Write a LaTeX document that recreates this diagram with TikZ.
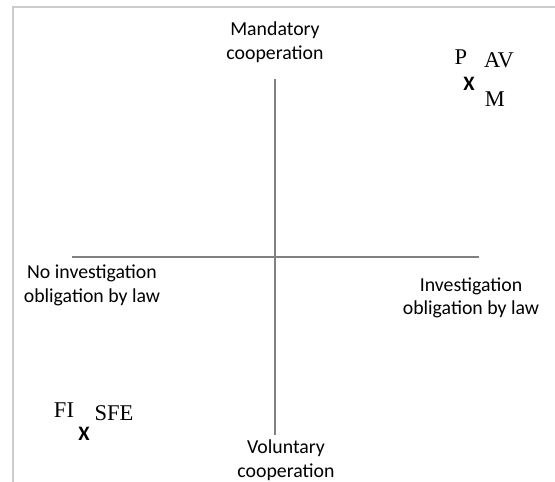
\documentclass[tikz,border=0pt]{standalone}
\usepackage{fontspec}
\setmainfont{Carlito}
\newfontfamily\serifl{Liberation Serif}
\begin{document}
\begin{tikzpicture}[x=1pt,y=-1pt,
  axisline/.style={draw=black!50, line width=2pt},
  framerule/.style={draw=black!20, line width=1.2pt},
  axislabel/.style={align=center, font=\fontsize{19.8}{23.5}\selectfont, inner sep=0pt},
  tag/.style={font=\fontsize{22.5}{26}\serifl, inner sep=0pt},
  mark x/.style={font=\fontsize{20.5}{24}\selectfont\bfseries, inner sep=0pt}]
  \useasboundingbox (0,0) rectangle (555,482);
  % frame
  \coordinate (fb) at (13,482);
  \coordinate (fc) at (13,7);
  \coordinate (fr) at (555,7);
  \draw[framerule] (fb) -- (fc) -- (fr);
  % axes
  \coordinate (top) at (275,79);
  \coordinate (bot) at (275,435);
  \coordinate (lft) at (72,257);
  \coordinate (rgt) at (479,257);
  \draw[axisline] (top) -- (bot);
  \draw[axisline] (lft) -- (rgt);
  % axis labels
  \node[axislabel] (mand) at (275,42) {Mandatory\\cooperation};
  \node[axislabel] (vol) at (286,460) {Voluntary\\cooperation};
  \node[axislabel] (noinv) at (92,285.5) {No investigation\\obligation by law};
  \node[axislabel] (inv) at (471,298) {Investigation\\obligation by law};
  % upper right cluster
  \node[tag] (p) at (461,57) {P};
  \node[tag] (av) at (499,60) {AV};
  \node[mark x] (x1) at (469,84) {X};
  \node[tag] (m) at (495,99) {M};
  % lower left cluster
  \node[tag] (fi) at (64,410) {FI};
  \node[tag] (sfe) at (114,413) {SFE};
  \node[mark x] (x2) at (84,434) {X};
\end{tikzpicture}
\end{document}
